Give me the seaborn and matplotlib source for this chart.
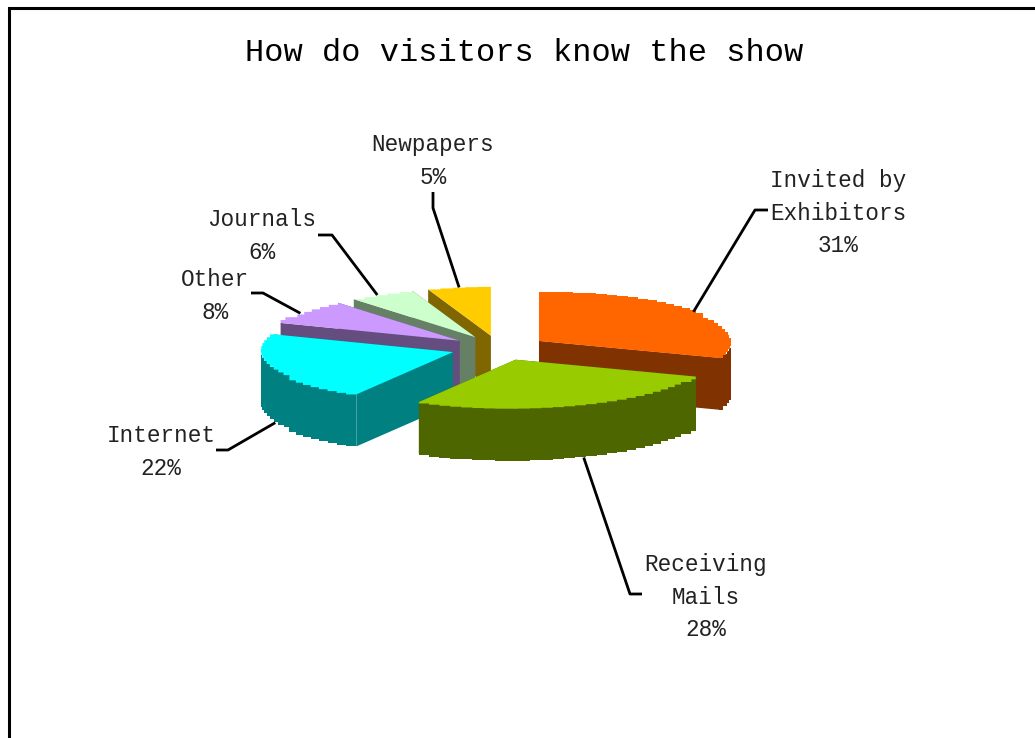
import numpy as np
import matplotlib
matplotlib.use("Agg")
import matplotlib.pyplot as plt
import seaborn as sns

# ---- data ----
categories = ["Invited by\nExhibitors", "Receiving\nMails", "Internet", "Other", "Journals", "Newpapers"]
shares = [30.6, 27.8, 22.5, 8.2, 5.6, 5.3]
top_colors = ["#FF6600", "#99CC00", "#00FFFF", "#CC99FF", "#CCFFCC", "#FFCC00"]

# ---- layout / style (pixel space of the figure) ----
W, H = 1035, 738
CX, CY = 499, 348
RX, RY = 192, 49
DEPTH = 52
EXPLODE = 0.254
STEP_DEG = 3.4
PAINT_ORDER = [5, 4, 3, 0, 2, 1]
FONT = ["Liberation Mono", "DejaVu Sans Mono"]
label_pos = [(838, 213), (706, 597), (161, 452), (215, 296), (262, 236), (433, 161)]
elbows = [[(755, 210), (768, 210)], [(630, 594), (642, 594)], [(228, 450), (216, 450)],
          [(263, 293), (251, 293)], [(332, 235), (318, 235)], [(433, 208), (433, 192)]]
leader_nudge_deg = [-1.5, -1, -3, -2, -1.5, 0]

sns.set_theme(style="white")
plt.rcParams["font.family"] = FONT
fig = plt.figure(figsize=(W / 100, H / 100), dpi=100, facecolor="white")
ax = fig.add_axes([0, 0, 1, 1])
ax.set_xlim(0, W)
ax.set_ylim(H, 0)
ax.axis("off")

bounds = np.concatenate([[0], np.cumsum(shares)]) / float(sum(shares)) * 360.0
tops = sns.color_palette(top_colors)
walls = [tuple(c * 0.5 for c in col) for col in tops]


def rim(ax0, ay0, t):
    r = np.radians(t)
    return ax0 + RX * np.sin(r), ay0 - RY * np.cos(r)


def stair_arc(ax0, ay0, t0, t1):
    n = max(2, int(abs(t1 - t0) / STEP_DEG) + 1)
    ts = np.linspace(t0, t1, n)
    xs, ys = rim(ax0, ay0, ts)
    out = [(xs[0], ys[0])]
    for i in range(1, n):
        out.append((xs[i], ys[i - 1]) if abs(np.cos(np.radians(ts[i]))) > 0.5 else (xs[i - 1], ys[i]))
        out.append((xs[i], ys[i]))
    return out


apex = []
for i in range(len(shares)):
    mid = np.radians((bounds[i] + bounds[i + 1]) / 2)
    apex.append((CX + EXPLODE * RX * np.sin(mid), CY - EXPLODE * RY * np.cos(mid)))

for i in PAINT_ORDER:
    a0, a1 = bounds[i], bounds[i + 1]
    ax0, ay0 = apex[i]
    for t in (a0, a1):
        x, y = rim(ax0, ay0, t)
        ax.fill([ax0, x, x, ax0], [ay0, y, y + DEPTH, ay0 + DEPTH], color=walls[i], lw=0)
    f0, f1 = max(a0, 90), min(a1, 270)
    if f0 < f1:
        arc = stair_arc(ax0, ay0, f0, f1)
        low = [(x, y + DEPTH) for x, y in arc]
        poly = arc + low[::-1]
        ax.fill([p[0] for p in poly], [p[1] for p in poly], color=walls[i], lw=0)
    arc = stair_arc(ax0, ay0, a0, a1)
    poly = [(ax0, ay0)] + arc
    ax.fill([p[0] for p in poly], [p[1] for p in poly], color=tops[i], lw=0)

for i, name in enumerate(categories):
    mid = (bounds[i] + bounds[i + 1]) / 2
    x, y = rim(*apex[i], mid + leader_nudge_deg[i])
    if 90 < mid < 270:
        y += DEPTH
    path = [(x, y)] + elbows[i]
    ax.plot([p[0] for p in path], [p[1] for p in path], color="black", lw=2, solid_capstyle="butt")
    lx, ly = label_pos[i]
    ax.text(lx, ly, f"{name}\n{shares[i]:.0f}%", ha="center", va="center", fontsize=16.3,
            family=FONT, color="#222222", linespacing=1.52, multialignment="center")

ax.text(524, 53, "How do visitors know the show", ha="center", va="center", fontsize=23,
        family=FONT, color="black")

ax.plot([W + 5, 9, 9], [7.5, 7.5, H + 5], color="black", lw=2.2, solid_joinstyle="miter")

fig.savefig("out.png", dpi=100, facecolor="white")
